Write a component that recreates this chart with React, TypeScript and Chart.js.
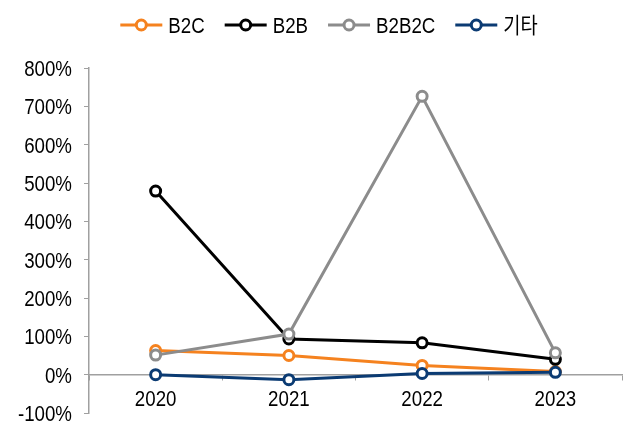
import React, { useEffect, useRef } from "react";
import { Chart, registerables } from "chart.js";

Chart.register(...registerables);

const categories = ["2020", "2021", "2022", "2023"];
const seriesNames = ["B2C", "B2B", "B2B2C", "기타"];
const b2c = [63, 50, 24, 8];
const b2b = [479, 93, 83, 40];
const b2b2c = [51, 106, 726, 57];
const etc = [0, -13, 3, 6];
const seriesColors = ["#F5821F", "#000000", "#8C8C8C", "#0B3B73"];
const drawOrder = [4, 3, 1, 2];
const yTicks = [-100, 0, 100, 200, 300, 400, 500, 600, 700, 800];

const FONT = '"Liberation Sans", "Noto Sans CJK KR", sans-serif';
const FONT_SIZE = 22;
const SQUEEZE = 0.85;

function condensedText(ctx: any, text: string, x: number, y: number, align: string) {
  ctx.save();
  ctx.translate(x, y);
  ctx.scale(SQUEEZE, 1);
  ctx.textAlign = align;
  ctx.textBaseline = "alphabetic";
  ctx.fillText(text, 0, 0);
  ctx.restore();
}

const labelsPlugin = {
  id: "condensedLabels",
  afterDraw(chart: any) {
    const ctx = chart.ctx;
    ctx.save();
    ctx.font = `${FONT_SIZE}px ${FONT}`;
    ctx.fillStyle = "#000";
    const ys = chart.scales.y;
    const xs = chart.scales.x;
    const left = chart.chartArea.left;
    yTicks.forEach((v) => {
      const py = ys.getPixelForValue(v);
      condensedText(ctx, `${v}%`, left - 17, py + 8, "right");
    });
    const zero = ys.getPixelForValue(0);
    categories.forEach((c, i) => {
      condensedText(ctx, c, xs.getPixelForTick(i), zero + 31, "center");
    });

    // legend
    const lineW = 42;
    const gap = 6;
    const spacing = 20;
    const widths = seriesNames.map((n) => lineW + gap + ctx.measureText(n).width * SQUEEZE);
    const total = widths.reduce((a, b) => a + b, 0) + spacing * (seriesNames.length - 1);
    let x = 329 - total / 2;
    const y = 25;
    seriesNames.forEach((name, i) => {
      ctx.strokeStyle = seriesColors[i];
      ctx.lineWidth = 3;
      ctx.beginPath();
      ctx.moveTo(x, y);
      ctx.lineTo(x + lineW, y);
      ctx.stroke();
      ctx.beginPath();
      ctx.arc(x + lineW / 2, y, 5, 0, Math.PI * 2);
      ctx.fillStyle = "#fff";
      ctx.fill();
      ctx.stroke();
      ctx.fillStyle = "#000";
      condensedText(ctx, name, x + lineW + gap, y + 8, "left");
      x += widths[i] + spacing;
    });
    ctx.restore();
  },
};

export default function App() {
  const ref = useRef<HTMLCanvasElement | null>(null);
  useEffect(() => {
    if (!ref.current) return;
    const allData = [b2c, b2b, b2b2c, etc];
    const chart = new Chart(ref.current, {
      type: "line",
      data: {
        labels: categories,
        datasets: seriesNames.map((name, i) => ({
          label: name,
          data: allData[i],
          borderColor: seriesColors[i],
          backgroundColor: "#ffffff",
          pointBackgroundColor: "#ffffff",
          pointBorderColor: seriesColors[i],
          borderWidth: 3,
          pointRadius: 5,
          pointBorderWidth: 3,
          tension: 0,
          order: drawOrder[i],
        })),
      },
      options: {
        animation: false,
        responsive: false,
        devicePixelRatio: 1,
        layout: { padding: { top: 68, bottom: 6, left: 0, right: 6 } },
        plugins: {
          legend: { display: false },
          tooltip: { enabled: false },
        },
        scales: {
          x: {
            position: { y: 0 } as any,
            offset: true,
            grid: {
              offset: true,
              drawOnChartArea: false,
              drawTicks: true,
              tickLength: 5,
              color: "#A0A0A0",
            },
            border: { color: "#A0A0A0", width: 1.5 },
            ticks: { display: false },
          },
          y: {
            min: -100,
            max: 800,
            afterFit: (scale: any) => {
              scale.width = 89;
            },
            afterBuildTicks: (scale: any) => {
              scale.ticks = yTicks.map((v) => ({ value: v }));
            },
            grid: {
              drawOnChartArea: false,
              drawTicks: true,
              tickLength: 5,
              color: "#A0A0A0",
            },
            border: { color: "#A0A0A0", width: 1.5 },
            ticks: { display: false },
          },
        },
      },
      plugins: [labelsPlugin],
    });
    return () => chart.destroy();
  }, []);
  return (
    <div style={{ position: "absolute", left: 0, top: 0, width: 630, height: 421, background: "#fff" }}>
      <canvas ref={ref} width={630} height={421} style={{ width: 630, height: 421 }} />
    </div>
  );
}
